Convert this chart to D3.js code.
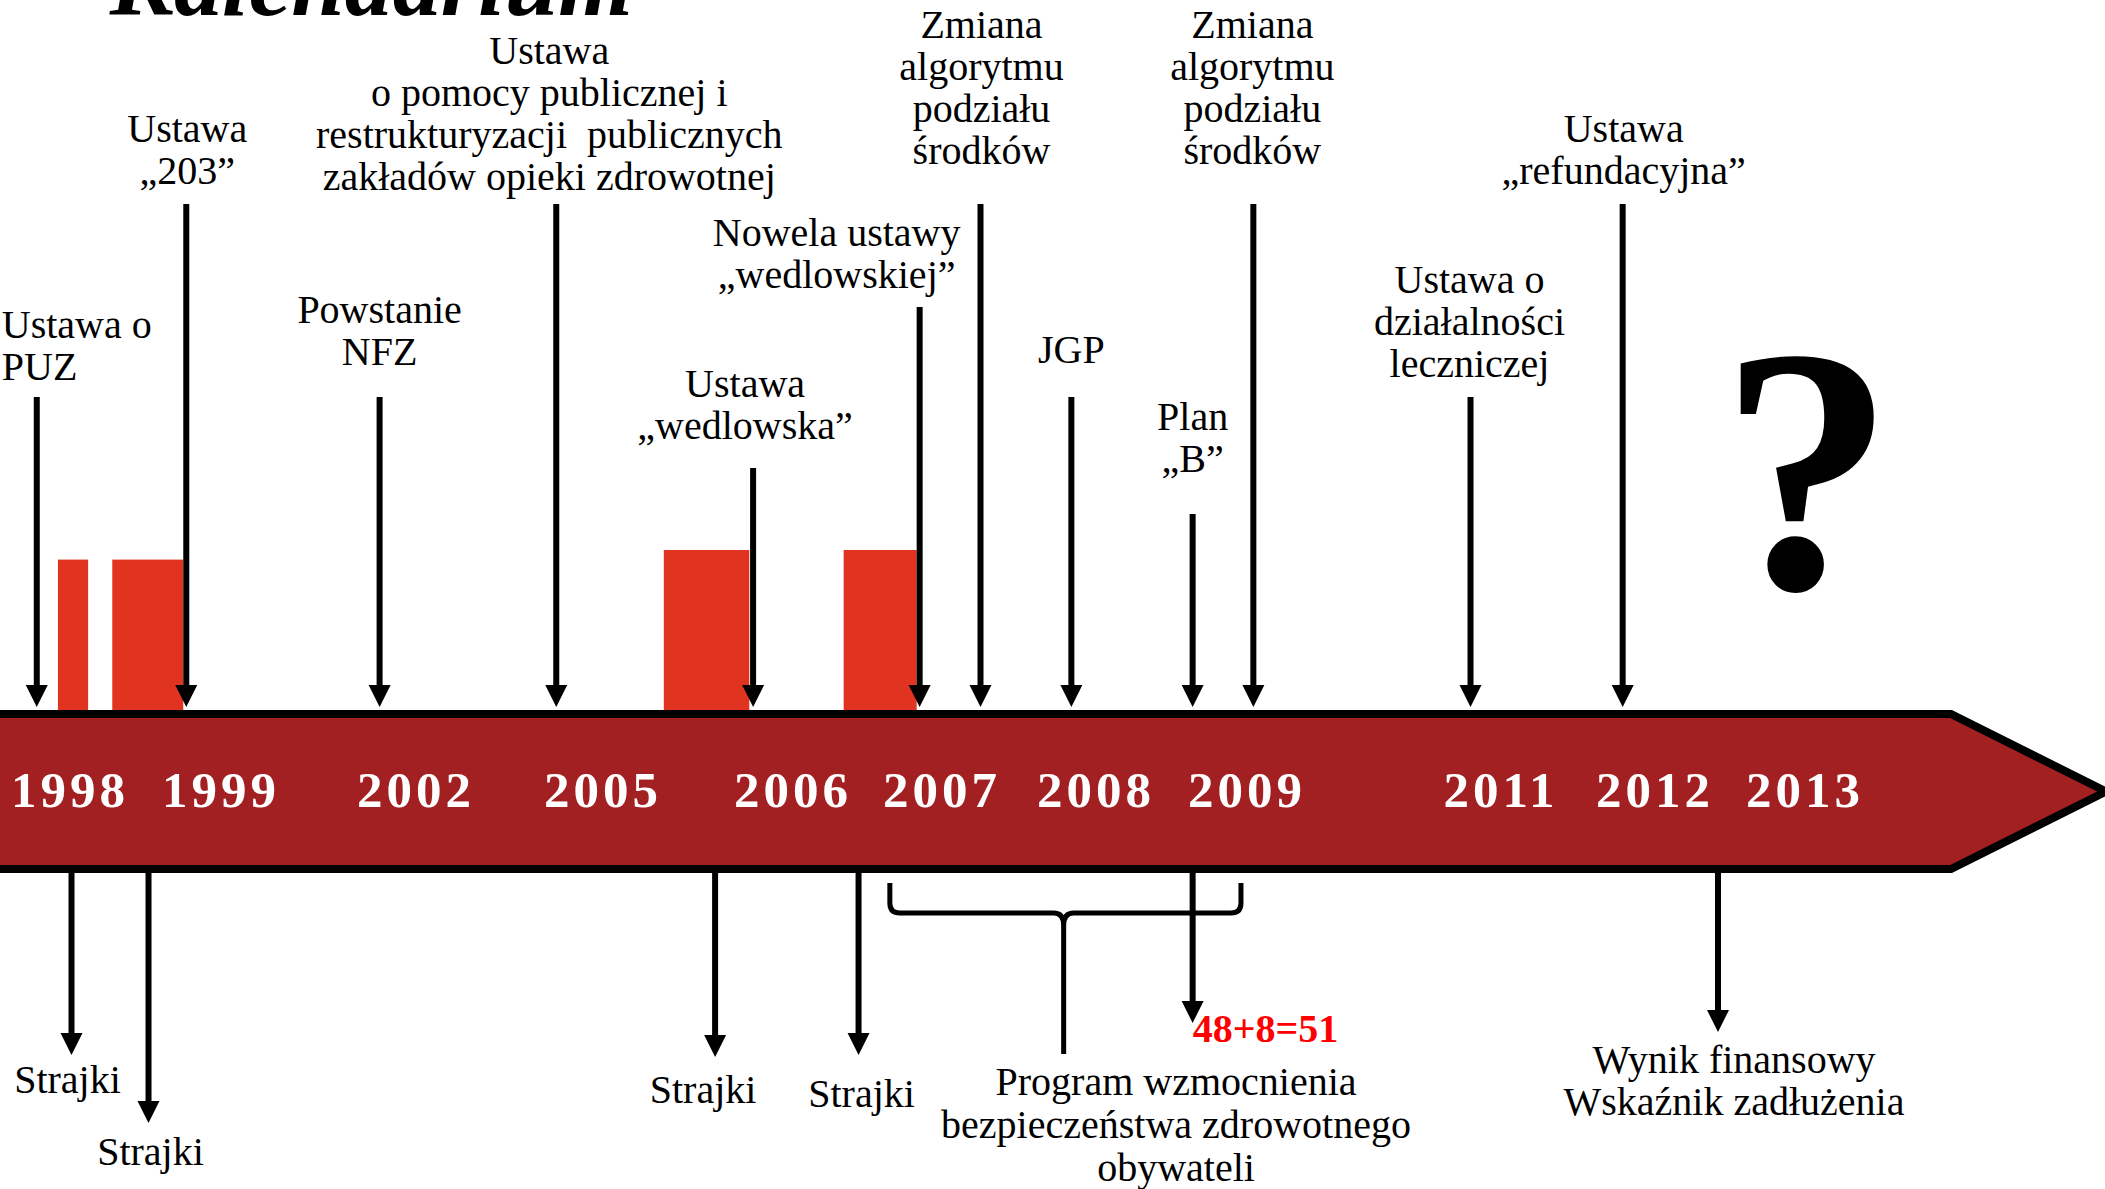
<!DOCTYPE html>
<html>
<head>
<meta charset="utf-8">
<script src="https://cdn.jsdelivr.net/npm/d3@7"></script>
<style>
  html, body { margin: 0; padding: 0; background: #fff; overflow: hidden; }
  svg { display: block; font-family: "Liberation Serif", "DejaVu Serif", serif; }
  text { white-space: pre; }
</style>
</head>
<body>
<div id="viz"></div>
<script>
const WIDTH = 2105, HEIGHT = 1189;

// years printed on the band
const bandYears = [1998, 1999, 2002, 2005, 2006, 2007, 2008, 2009, 2011, 2012, 2013];
// where each year label sits along the band (the slide is not to scale)
const bandYearX = [70, 221, 416, 603, 793, 942, 1096, 1247, 1501, 1655, 1805];

// events above the band (approximate dates)
const topEventDates = [1997.78, 1998.77, 2001.44, 2004.25, 2005.79, 2006.85, 2007.25, 2007.84, 2008.64, 2009.05, 2010.76, 2011.79];
const topEventLabels = [
  ["Ustawa o", "PUZ"],
  ["Ustawa", "„203”"],
  ["Powstanie", "NFZ"],
  ["Ustawa", "o pomocy publicznej i", "restrukturyzacji  publicznych", "zakładów opieki zdrowotnej"],
  ["Ustawa", "„wedlowska”"],
  ["Nowela ustawy", "„wedlowskiej”"],
  ["Zmiana", "algorytmu", "podziału", "środków"],
  ["JGP"],
  ["Plan", "„B”"],
  ["Zmiana", "algorytmu", "podziału", "środków"],
  ["Ustawa o", "działalności", "leczniczej"],
  ["Ustawa", "„refundacyjna”"]
];

// strike periods (red blocks)
const strikeStart = [1997.92, 1998.28, 2005.32, 2006.34];
const strikeEnd = [1998.12, 1998.75, 2005.77, 2006.83];
const strikeLevel = [94, 94, 100, 100];

// events below the band
const bottomEventDates = [1998.01, 1998.52, 2005.59, 2006.44, 2008.64, 2012.42];
const bottomEventLabels = [
  ["Strajki"], ["Strajki"], ["Strajki"], ["Strajki"],
  ["48+8=51"],
  ["Wynik finansowy", "Wskaźnik zadłużenia"]
];

// bracketed programme
const programStart = 2006.65, programEnd = 2008.96, programMid = 2007.79;
const programLabel = ["Program wzmocnienia", "bezpieczeństwa zdrowotnego", "obywateli"];

// layout for labels / arrow lengths
const topArrowTop = [397, 204, 397, 204, 468, 307, 204, 397, 514, 204, 397, 204];
const topLabelY = [338, 142, 323, 64, 397, 246, 38, 363, 430, 38, 293, 142];
const topLabelDx = [-35, 1, 0, -7, -8, -83, 1, 0, 0, -1, -1, 1];
const topLabelAnchor = ["start", "middle", "middle", "middle", "middle", "middle", "middle", "middle", "middle", "middle", "middle", "middle"];
const bottomArrowTip = [1055, 1123, 1057, 1055, 1023, 1032];
const bottomLabelY = [1093, 1165, 1103, 1107, 1042, 1073];
const bottomLabelDx = [-4, 2, -12, 3, 0, 16];

const COLORS = { band: "#A21F22", strike: "#E03320", ink: "#000", red: "#FF0000" };
const BAND_TOP = 714, BAND_BOTTOM = 869, LINE_H = 42;

const x = d3.scaleLinear().domain(bandYears).range(bandYearX);
const yStrike = d3.scaleLinear().domain([0, 100]).range([BAND_TOP - 4, 550]);

const svg = d3.select("#viz").append("svg")
  .attr("width", WIDTH)
  .attr("height", HEIGHT)
  .attr("viewBox", `0 0 ${WIDTH} ${HEIGHT}`);

// title, mostly cut off at the top of the slide
svg.append("text")
  .attr("x", 110)
  .attr("y", 15)
  .style("font-size", "96px")
  .style("font-weight", "bold")
  .style("font-style", "italic")
  .text("Kalendarium");

// strike blocks
svg.append("g")
  .selectAll("rect")
  .data(strikeStart)
  .join("rect")
  .attr("x", (d, i) => x(d))
  .attr("width", (d, i) => x(strikeEnd[i]) - x(d))
  .attr("y", (d, i) => yStrike(strikeLevel[i]))
  .attr("height", (d, i) => yStrike(0) - yStrike(strikeLevel[i]))
  .attr("fill", COLORS.strike);

// arrow-shaped band
const mid = (BAND_TOP + BAND_BOTTOM) / 2;
svg.append("path")
  .attr("d", `M-4,${BAND_TOP} L1951,${BAND_TOP} L2106,${mid} L1951,${BAND_BOTTOM} L-4,${BAND_BOTTOM} Z`)
  .attr("fill", COLORS.band)
  .attr("stroke", COLORS.ink)
  .attr("stroke-width", 8)
  .attr("stroke-linejoin", "miter");

svg.append("g")
  .selectAll("text")
  .data(bandYears)
  .join("text")
  .attr("x", d => x(d))
  .attr("y", 807)
  .attr("text-anchor", "middle")
  .attr("fill", "#fff")
  .style("font-size", "51px")
  .style("font-weight", "bold")
  .style("letter-spacing", "4px")
  .text(d => d);

function arrow(g, xPos, y0, tip, dir) {
  const head = 22, half = 11;
  g.append("line")
    .attr("x1", xPos).attr("x2", xPos)
    .attr("y1", y0).attr("y2", tip - dir * head + dir * 2)
    .attr("stroke", COLORS.ink)
    .attr("stroke-width", 6);
  g.append("path")
    .attr("d", `M${xPos - half},${tip - dir * head} L${xPos + half},${tip - dir * head} L${xPos},${tip} Z`)
    .attr("fill", COLORS.ink);
}

// events above
const topG = svg.append("g");
topEventDates.forEach((d, i) => {
  const xp = x(d);
  arrow(topG, xp, topArrowTop[i], 707, 1);
  const t = topG.append("text")
    .attr("text-anchor", topLabelAnchor[i])
    .style("font-size", "40px");
  topEventLabels[i].forEach((line, j) => {
    t.append("tspan")
      .attr("x", xp + topLabelDx[i])
      .attr("y", topLabelY[i] + j * LINE_H)
      .text(line);
  });
});

// events below
const botG = svg.append("g");
bottomEventDates.forEach((d, i) => {
  const xp = x(d);
  arrow(botG, xp, BAND_BOTTOM + 4, bottomArrowTip[i], 1);
  const isScore = bottomEventLabels[i][0].includes("=");
  const t = botG.append("text")
    .attr("text-anchor", isScore ? "start" : "middle")
    .attr("fill", isScore ? COLORS.red : COLORS.ink)
    .style("font-size", "40px")
    .style("font-weight", isScore ? "bold" : "normal");
  bottomEventLabels[i].forEach((line, j) => {
    t.append("tspan")
      .attr("x", xp + bottomLabelDx[i])
      .attr("y", bottomLabelY[i] + j * LINE_H)
      .text(line);
  });
});

// bracket for the programme
const bx0 = x(programStart), bx1 = x(programEnd), bm = x(programMid);
const by = 913;
svg.append("path")
  .attr("d", `M${bx0},883 L${bx0},${by - 10} Q${bx0},${by} ${bx0 + 10},${by} L${bm - 10},${by} Q${bm},${by} ${bm},${by + 12} L${bm},1054` +
             ` M${bm},${by + 12} Q${bm},${by} ${bm + 10},${by} L${bx1 - 10},${by} Q${bx1},${by} ${bx1},${by - 10} L${bx1},883`)
  .attr("fill", "none")
  .attr("stroke", COLORS.ink)
  .attr("stroke-width", 5);

const pt = svg.append("text")
  .attr("text-anchor", "middle")
  .style("font-size", "40px");
programLabel.forEach((line, j) => {
  pt.append("tspan")
    .attr("x", 1176)
    .attr("y", 1095 + j * 43)
    .text(line);
});

// big question mark
svg.append("text")
  .attr("x", 1807)
  .attr("y", 588)
  .attr("text-anchor", "middle")
  .style("font-size", "350px")
  .style("font-weight", "bold")
  .text("?");
</script>
</body>
</html>
